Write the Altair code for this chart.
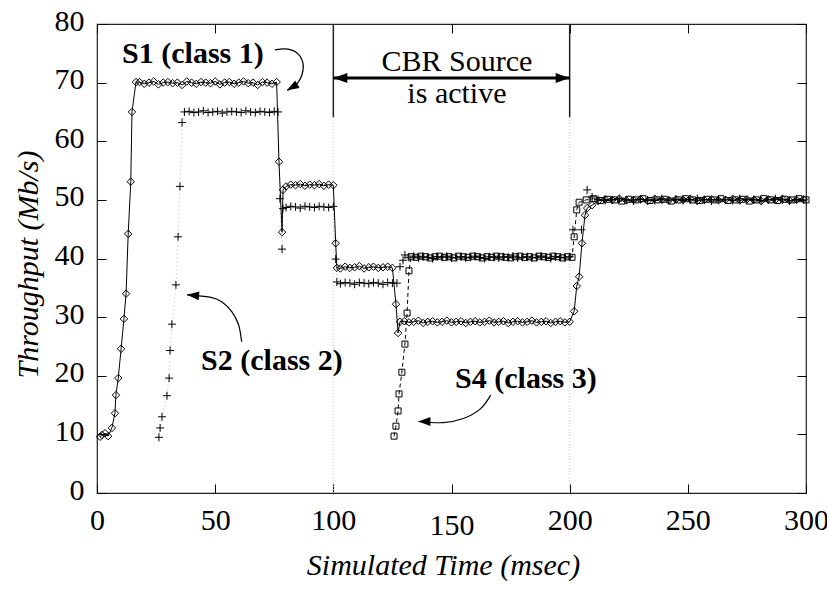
import altair as alt
import pandas as pd

FONT = "'Liberation Serif', 'Times New Roman', Times, 'DejaVu Serif', serif"

# ---------------- S1 (class 1): time (msec), throughput (Mb/s) ----------------
s1_rise_t = [1.3, 2.1, 3.4, 4.7, 6.3, 7.6, 8.0, 9.0, 10.2, 11.4, 12.3, 13.2, 14.3, 14.8, 16.5]
s1_rise_v = [9.6, 9.9, 10.2, 9.7, 11.1, 13.6, 16.7, 19.6, 24.6, 29.7, 34.0, 44.2, 53.1, 65.0, 70.1]
s1_p70_t = list(range(18, 77, 2))
s1_p70_v = [70.1, 69.8, 70.0, 70.2, 69.7, 70.0, 70.1, 69.9, 70.0, 69.6, 70.2, 70.0, 69.8, 70.1, 70.0,
            69.9, 70.2, 69.7, 70.0, 70.1, 69.8, 70.0, 70.2, 69.9, 70.0, 69.6, 70.1, 70.0, 69.8, 70.1]
s1_drop1_t = [77.0, 78.3, 78.7]
s1_drop1_v = [56.5, 44.5, 51.7]
s1_p52_t = list(range(80, 101, 2))
s1_p52_v = [52.3, 52.6, 52.5, 52.7, 52.4, 52.6, 52.5, 52.7, 52.4, 52.6, 52.5]
s1_drop2_t = [101.0, 101.5]
s1_drop2_v = [42.6, 38.4]
s1_p38_t = list(range(103, 126, 2))
s1_p38_v = [38.3, 38.6, 38.4, 38.5, 38.7, 38.3, 38.5, 38.6, 38.4, 38.5, 38.6, 38.4]
s1_drop3_t = [126.5, 127.4, 128.2]
s1_drop3_v = [32.2, 27.3, 29.2]
s1_p29_t = list(range(130, 201, 2))
s1_p29_v = [29.3, 29.1, 29.2, 29.4, 29.0, 29.2, 29.3, 29.1, 29.2, 29.4, 29.1, 29.2, 29.3, 29.0, 29.2, 29.3,
            29.1, 29.2, 29.4, 29.1, 29.2, 29.3, 29.0, 29.2, 29.3, 29.1, 29.2, 29.4, 29.1, 29.2, 29.3, 29.0,
            29.2, 29.3, 29.1, 29.2]
s1_rise2_t = [201.9, 203.0, 204.0, 205.2, 206.5, 207.4, 209.5]
s1_rise2_v = [31.0, 35.3, 36.9, 42.6, 47.4, 48.6, 49.1]
s1_p50_t = list(range(212, 300, 3))
s1_p50_v = [49.8, 50.1, 50.0, 50.2, 49.9, 50.0, 50.1, 49.8, 50.2, 50.0, 49.9, 50.1, 50.0, 50.2, 49.8,
            50.0, 50.1, 49.9, 50.0, 50.2, 49.9, 50.1, 50.0, 49.8, 50.1, 50.0, 50.2, 49.9, 50.0, 50.1]

# ---------------- S2 (class 2) ----------------
s2_rise_t = [26.2, 26.7, 27.5, 29.6, 30.5, 30.9, 31.7, 33.4, 34.3, 35.1, 36.0]
s2_rise_v = [9.5, 11.1, 13.0, 16.6, 19.6, 24.3, 28.8, 35.5, 43.7, 52.3, 63.2]
s2_p65_t = list(range(37, 76, 2)) + [76.6]
s2_p65_v = [65.0, 65.1, 64.9, 65.0, 65.2, 64.9, 65.0, 65.1, 64.8, 65.0, 65.1, 65.0, 64.9, 65.2, 65.0,
            64.9, 65.1, 65.0, 64.9, 65.1, 65.0]
s2_drop1_t = [77.4, 78.3, 78.7]
s2_drop1_v = [50.2, 41.6, 48.5]
s2_p49_t = list(range(80, 101, 2))
s2_p49_v = [48.7, 48.9, 48.8, 48.6, 48.9, 48.8, 48.7, 48.9, 48.8, 48.7, 48.9]
s2_drop2_t = [101.0, 101.5]
s2_drop2_v = [39.9, 36.0]
s2_p36_t = list(range(103, 126, 2)) + [126.9]
s2_p36_v = [35.7, 35.9, 35.8, 35.6, 35.9, 35.8, 35.7, 35.9, 35.8, 35.6, 35.9, 35.8, 35.8]
s2_rise2_t = [128.2, 129.5, 130.3]
s2_rise2_v = [38.6, 39.7, 40.6]
s2_p40_t = list(range(132, 201, 2))
s2_p40_v = [40.2, 40.4, 40.1, 40.3, 40.2, 40.0, 40.3, 40.2, 40.4, 40.1, 40.2, 40.3, 40.1, 40.2, 40.4,
            40.2, 40.0, 40.3, 40.2, 40.1, 40.3, 40.2, 40.4, 40.1, 40.2, 40.3, 40.1, 40.2, 40.4, 40.2,
            40.0, 40.3, 40.2, 40.1, 40.3]
s2_rise3_t = [201.4, 205.0, 207.4, 209.5]
s2_rise3_v = [44.9, 44.9, 51.7, 50.5]
s2_p50_t = list(range(212, 300, 3))
s2_p50_v = [50.1, 49.9, 50.0, 50.2, 50.0, 49.8, 50.1, 50.0, 49.9, 50.2, 50.0, 50.1, 49.9, 50.0, 50.2,
            50.0, 49.8, 50.1, 50.0, 49.9, 50.2, 50.0, 50.1, 49.9, 50.0, 50.2, 50.0, 49.8, 50.1, 50.0]

# ---------------- S4 (class 3) ----------------
s4_rise_t = [125.7, 126.5, 127.4, 127.8, 129.0, 130.3, 131.2, 132.0, 132.9]
s4_rise_v = [9.7, 11.4, 14.0, 16.9, 20.6, 25.4, 30.7, 37.9, 40.3]
s4_p40_t = list(range(135, 202, 2))
s4_p40_v = [40.2, 40.4, 40.3, 40.1, 40.3, 40.4, 40.2, 40.3, 40.1, 40.4, 40.3, 40.2, 40.4, 40.3, 40.1,
            40.3, 40.2, 40.4, 40.3, 40.2, 40.1, 40.3, 40.4, 40.2, 40.3, 40.1, 40.4, 40.3, 40.2, 40.4,
            40.3, 40.1, 40.3, 40.2]
s4_rise2_t = [201.9, 203.0, 204.0]
s4_rise2_v = [43.7, 48.3, 49.6]
s4_p50_t = list(range(207, 301, 3))
s4_p50_v = [50.0, 50.2, 49.9, 50.1, 50.0, 49.8, 50.1, 50.0, 50.2, 49.9, 50.0, 50.1, 49.8, 50.0, 50.2,
            50.0, 49.9, 50.1, 50.0, 50.2, 49.9, 50.0, 50.1, 49.8, 50.0, 50.2, 50.0, 49.9, 50.1, 50.0,
            50.2, 50.0]

# ---------------- annotations ----------------
cbr_start, cbr_end = 100, 200
cbr_bar_low, cbr_arrow_y = 64.1, 70.8
labels_bold = ["S1 (class 1)", "S2 (class 2)", "S4 (class 3)"]
labels_bold_t = [40.6, 74.0, 181.5]
labels_bold_v = [73.3, 21.0, 17.9]
labels_plain = ["CBR Source", "is active"]
labels_plain_t = [152.3, 152.3]
labels_plain_v = [72.0, 66.5]

# curved pointer arrows (time, throughput) from label towards its curve
arrow_s1_t = [75.3, 80.8, 85.1, 87.2, 86.7, 84.6, 81.7, 80.4]
arrow_s1_v = [75.6, 75.7, 74.9, 73.2, 71.3, 69.8, 68.9, 68.7]
arrow_s2_t = [61.2, 59.9, 57.1, 52.9, 47.8, 38.1]
arrow_s2_v = [25.8, 28.7, 30.9, 32.6, 33.4, 33.8]
arrow_s4_t = [166.6, 162.1, 155.0, 146.5, 136.0]
arrow_s4_v = [16.7, 14.3, 12.7, 12.0, 12.2]
arrow_angles = [330, 5, 0]

x_ticks = [0, 50, 100, 150, 200, 250, 300]
y_ticks = [0, 10, 20, 30, 40, 50, 60, 70, 80]


def series(*segments):
    t, v = [], []
    for ts, vs in segments:
        t += list(ts)
        v += list(vs)
    return pd.DataFrame({"t": t, "v": v})


s1 = series((s1_rise_t, s1_rise_v), (s1_p70_t, s1_p70_v), (s1_drop1_t, s1_drop1_v),
            (s1_p52_t, s1_p52_v), (s1_drop2_t, s1_drop2_v), (s1_p38_t, s1_p38_v),
            (s1_drop3_t, s1_drop3_v), (s1_p29_t, s1_p29_v), (s1_rise2_t, s1_rise2_v),
            (s1_p50_t, s1_p50_v))
s2 = series((s2_rise_t, s2_rise_v), (s2_p65_t, s2_p65_v), (s2_drop1_t, s2_drop1_v),
            (s2_p49_t, s2_p49_v), (s2_drop2_t, s2_drop2_v), (s2_p36_t, s2_p36_v),
            (s2_rise2_t, s2_rise2_v), (s2_p40_t, s2_p40_v), (s2_rise3_t, s2_rise3_v),
            (s2_p50_t, s2_p50_v))
s4 = series((s4_rise_t, s4_rise_v), (s4_p40_t, s4_p40_v), (s4_rise2_t, s4_rise2_v),
            (s4_p50_t, s4_p50_v))

xs = alt.Scale(domain=[0, 300], nice=False, zero=False)
ys = alt.Scale(domain=[0, 80], nice=False, zero=False)

tick_common = dict(domain=False, grid=False, ticks=True, tickSize=9, tickColor="black",
                   tickWidth=1, offset=-9, labelFlush=False, labelOverlap=False)

ax_bottom = alt.Axis(values=x_ticks, orient="bottom", labelFont=FONT, labelFontSize=30,
                     labelColor="black",
                     labelPadding={"condition": {"test": "datum.value == 150", "value": 17},
                                   "value": 12},
                     title="Simulated Time (msec)", titleFont=FONT, titleFontSize=30,
                     titleFontStyle="italic", titleFontWeight="normal", titleColor="black",
                     titleX=346, titleY=90, titleAlign="center", titleBaseline="alphabetic",
                     format="d", **tick_common)
ax_left = alt.Axis(values=y_ticks, orient="left", labelFont=FONT, labelFontSize=30,
                   labelColor="black", labelPadding=13, labelOffset=-3,
                   title="Throughput (Mb/s)", titleFont=FONT, titleFontSize=30,
                   titleFontStyle="italic", titleFontWeight="normal", titleColor="black",
                   titleX=-69, titleY=240, titleAngle=270, titleAlign="center",
                   titleBaseline="alphabetic", format="d", **tick_common)
ax_top = alt.Axis(values=x_ticks, orient="top", labels=False, title=None, **tick_common)
ax_right = alt.Axis(values=y_ticks, orient="right", labels=False, title=None, **tick_common)


def enc(ax_x=None, ax_y=None):
    return dict(x=alt.X("t:Q", scale=xs, axis=ax_x), y=alt.Y("v:Q", scale=ys, axis=ax_y))


# series lines
line_s2 = alt.Chart(s2).mark_line(color="#b8b8b8", strokeWidth=1, strokeDash=[1, 3]).encode(**enc())
line_s4 = alt.Chart(s4).mark_line(color="black", strokeWidth=1, strokeDash=[4, 3]).encode(**enc())
line_s1 = alt.Chart(s1).mark_line(color="black", strokeWidth=1).encode(**enc(ax_bottom, ax_left))

# series markers
pts_s2 = alt.Chart(s2).mark_point(shape="M-1,0H1M0,-1V1", size=64, filled=False, stroke="black",
                                  strokeWidth=1, opacity=1).encode(**enc())
pts_s4 = alt.Chart(s4).mark_point(shape="square", size=36, filled=False, stroke="black",
                                  strokeWidth=1, opacity=1).encode(**enc())
pts_s1 = alt.Chart(s1).mark_point(shape="diamond", size=56, filled=False, stroke="black",
                                  strokeWidth=1, opacity=1).encode(**enc(ax_top, ax_right))

# CBR-active interval markers
cbr_df = pd.DataFrame({"t": [cbr_start, cbr_end], "lo": [cbr_bar_low] * 2, "hi": [80, 80],
                       "zero": [0, 0]})
cbr_guides = alt.Chart(cbr_df).mark_rule(color="#c8c8c8", strokeWidth=1, strokeDash=[1, 2]).encode(
    x=alt.X("t:Q", scale=xs, axis=None), y=alt.Y("zero:Q", scale=ys, axis=None), y2="lo:Q")
cbr_bars = alt.Chart(cbr_df).mark_rule(color="#222", strokeWidth=1.5).encode(
    x=alt.X("t:Q", scale=xs, axis=None), y=alt.Y("lo:Q", scale=ys, axis=None), y2="hi:Q")
span_df = pd.DataFrame({"t": [cbr_start], "t2": [cbr_end], "v": [cbr_arrow_y]})
cbr_span = alt.Chart(span_df).mark_rule(color="black", strokeWidth=3).encode(
    x=alt.X("t:Q", scale=xs, axis=None), x2="t2:Q", y=alt.Y("v:Q", scale=ys, axis=None))
head_l = alt.Chart(pd.DataFrame({"t": [cbr_start], "v": [cbr_arrow_y]})).mark_point(
    shape="M0,0L2.8,-1L2.8,1Z", size=100, filled=True, color="black", opacity=1).encode(**enc())
head_r = alt.Chart(pd.DataFrame({"t": [cbr_end], "v": [cbr_arrow_y]})).mark_point(
    shape="M0,0L-2.8,-1L-2.8,1Z", size=100, filled=True, color="black", opacity=1).encode(**enc())

# curved pointers
curves = []
for name, ts, vs in [("s1", arrow_s1_t, arrow_s1_v), ("s2", arrow_s2_t, arrow_s2_v),
                     ("s4", arrow_s4_t, arrow_s4_v)]:
    for i, (a, b) in enumerate(zip(ts, vs)):
        curves.append({"g": name, "i": i, "t": a, "v": b})
curve_df = pd.DataFrame(curves)
pointer_lines = alt.Chart(curve_df).mark_line(color="black", strokeWidth=1.2,
                                               interpolate="cardinal").encode(
    **enc(), detail="g:N", order="i:Q")
tips_df = pd.DataFrame({"t": [arrow_s1_t[-1], arrow_s2_t[-1], arrow_s4_t[-1]],
                        "v": [arrow_s1_v[-1], arrow_s2_v[-1], arrow_s4_v[-1]],
                        "a": arrow_angles})
pointer_tips = alt.Chart(tips_df).mark_point(shape="M0,0L3,-1.1L3,1.1Z", size=64, filled=True,
                                             color="black", opacity=1).encode(
    **enc(), angle=alt.Angle("a:Q", scale=None))

# text labels
bold_df = pd.DataFrame({"t": labels_bold_t, "v": labels_bold_v, "s": labels_bold})
plain_df = pd.DataFrame({"t": labels_plain_t, "v": labels_plain_v, "s": labels_plain})
bold_text = alt.Chart(bold_df).mark_text(font=FONT, fontSize=30, fontWeight="bold", color="black",
                                         align="center", baseline="alphabetic").encode(
    **enc(), text="s:N")
plain_text = alt.Chart(plain_df).mark_text(font=FONT, fontSize=30, color="black",
                                           align="center", baseline="alphabetic").encode(
    **enc(), text="s:N")

chart = alt.layer(
    cbr_guides, cbr_bars, cbr_span, head_l, head_r,
    line_s2, line_s4, line_s1,
    pts_s2, pts_s4, pts_s1,
    pointer_lines, pointer_tips, bold_text, plain_text,
).resolve_axis(x="independent", y="independent").properties(
    width=709, height=469,
    padding={"left": 97, "top": 24, "right": 21, "bottom": 96},
    autosize=alt.AutoSizeParams(type="none"),
    background="white",
).configure_view(stroke="#222", strokeWidth=1.2)

chart.save("out.html", embed_options={"renderer": "svg", "actions": False})
